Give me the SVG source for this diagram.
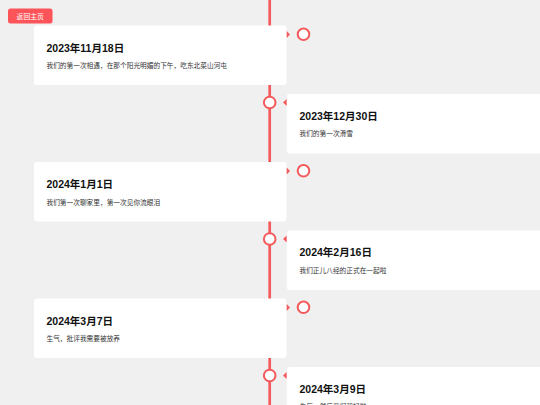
<svg xmlns="http://www.w3.org/2000/svg" width="540" height="405" viewBox="0 0 540 405">
<style>
.card{fill:#ffffff}
.title{font-family:"Liberation Sans","Noto Sans CJK SC",sans-serif;font-weight:bold;font-size:10.5px;fill:#111}
.desc{font-family:"Noto Sans CJK SC",sans-serif;font-size:6.7px;fill:#333}
.dot{fill:#ffffff;stroke:#f45a5c;stroke-width:2}
.tri{fill:#f45a5c}
</style>
<rect x="0" y="0" width="540" height="405" fill="#f0f0f0"/>
<g id="connectors">
<line x1="269.7" y1="0" x2="269.7" y2="405" stroke="#f45a5c" stroke-width="2.7"/>
</g>
<g id="back-button">
<rect x="8" y="8.5" width="44.5" height="15" rx="2.5" fill="#fc5459"/>
<text x="30.2" y="18.6" text-anchor="middle" font-family="Noto Sans CJK SC,sans-serif" font-size="6.8" fill="#ffffff">返回主页</text>
</g>
<g id="node1">
<rect class="card" x="34" y="25.5" width="252.5" height="59.5" rx="3"/>
<text class="title" x="46.5" y="51.5">2023年11月18日</text>
<text class="desc" x="46.5" y="68">我们的第一次相遇，在那个阳光明媚的下午，吃东北菜山河屯</text>
<polygon class="tri" points="286.7,31 290,34.5 286.7,38"/>
<circle class="dot" cx="303.5" cy="34.3" r="5.8"/>
</g>
<g id="node2">
<rect class="card" x="286.7" y="94" width="260" height="59.5" rx="3"/>
<text class="title" x="299.5" y="119.5">2023年12月30日</text>
<text class="desc" x="299.5" y="136">我们的第一次滑雪</text>
<polygon class="tri" points="286.7,99 283,102.5 286.7,106"/>
<circle class="dot" cx="269.7" cy="102.5" r="5.8"/>
</g>
<g id="node3">
<rect class="card" x="34" y="162" width="252.5" height="59.5" rx="3"/>
<text class="title" x="46.5" y="188">2024年1月1日</text>
<text class="desc" x="46.5" y="204.5">我们第一次聊家里，第一次见你流眼泪</text>
<polygon class="tri" points="286.7,167.5 290,171 286.7,174.5"/>
<circle class="dot" cx="303.5" cy="170.8" r="5.8"/>
</g>
<g id="node4">
<rect class="card" x="286.7" y="230.5" width="260" height="59.5" rx="3"/>
<text class="title" x="299.5" y="256">2024年2月16日</text>
<text class="desc" x="299.5" y="272.5">我们正儿八经的正式在一起啦</text>
<polygon class="tri" points="286.7,235.5 283,239 286.7,242.5"/>
<circle class="dot" cx="269.7" cy="239" r="5.8"/>
</g>
<g id="node5">
<rect class="card" x="34" y="298.5" width="252.5" height="59.5" rx="3"/>
<text class="title" x="46.5" y="324.5">2024年3月7日</text>
<text class="desc" x="46.5" y="341">生气，批评我需要被放养</text>
<polygon class="tri" points="286.7,304 290,307.5 286.7,311"/>
<circle class="dot" cx="303.5" cy="307.3" r="5.8"/>
</g>
<g id="node6">
<rect class="card" x="286.7" y="367" width="260" height="59.5" rx="3"/>
<text class="title" x="299.5" y="392.5">2024年3月9日</text>
<text class="desc" x="299.5" y="409">生气，然后我们和好啦</text>
<polygon class="tri" points="286.7,372 283,375.5 286.7,379"/>
<circle class="dot" cx="269.7" cy="375.5" r="5.8"/>
</g>
</svg>
